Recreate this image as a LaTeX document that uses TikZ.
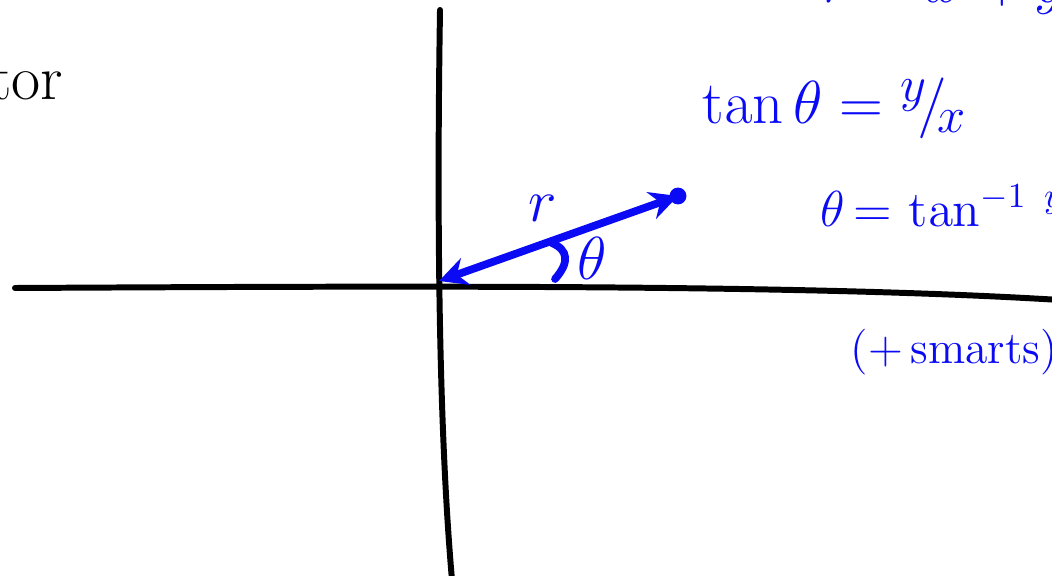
\documentclass[tikz,border=0pt]{standalone}
\usetikzlibrary{arrows.meta,positioning}
\definecolor{pen}{RGB}{10,10,245}
\tikzset{
  axisline/.style={line width=1.7pt,line cap=round},
  penline/.style={pen,line width=2.2pt,line cap=round},
  pentext/.style={pen,font=\fontsize{19}{23}\selectfont},
}
\begin{document}
\begin{tikzpicture}[every node/.style={inner sep=0pt}]
\useasboundingbox (0,0) rectangle (10.52,-5.75);
\clip (0,0) rectangle (10.52,-5.75);
\coordinate (xl) at (0.15,-2.88);
\coordinate (xr) at (10.60,-3.00);
\coordinate (yt) at (4.40,-0.10);
\coordinate (yb) at (4.52,-5.80);
\coordinate (O) at (4.39,-2.81);
\coordinate (P) at (6.78,-1.96);
\draw[axisline] (xl) .. controls (4.0,-2.86) and (8.0,-2.84) .. (xr);
\draw[axisline] (yt) .. controls (4.37,-2.0) and (4.38,-4.2) .. (yb);
\draw[penline,{Stealth[length=8pt,width=8pt]}-{Stealth[length=8pt,width=8pt]}] (O) -- (P);
\fill[pen] (P) circle (2.4pt);
\draw[penline] (5.55,-2.79) .. controls (5.70,-2.62) and (5.68,-2.50) .. (5.52,-2.43);
\node[pentext] (rlab) at (5.43,-2.08) {$r$};
\node[pentext] (thlab) at (5.92,-2.58) {$\theta$};
\node[pentext,font=\fontsize{16}{20}\selectfont,anchor=base west] (top) at (8.22,-0.03) {$r^2{=}\,x^2{+}\,y^2$};
\node[pentext,anchor=west] (tan) at (7.02,-1.08) {$\tan\theta = {}^{y}\!/\!_{x}$};
\node[pentext,font=\fontsize{14}{18}\selectfont,anchor=west] (atan) at (8.20,-2.12) {$\theta\,{=}\,\tan^{-1}\,{}^{y}\!/\!_{x}$};
\node[pentext,font=\fontsize{13}{16}\selectfont,anchor=west] (smart) at (8.50,-3.52) {(+\,smarts)};
\node[font=\fontsize{18}{22}\selectfont,anchor=east] (vec) at (0.64,-0.80) {vector};
\end{tikzpicture}
\end{document}
